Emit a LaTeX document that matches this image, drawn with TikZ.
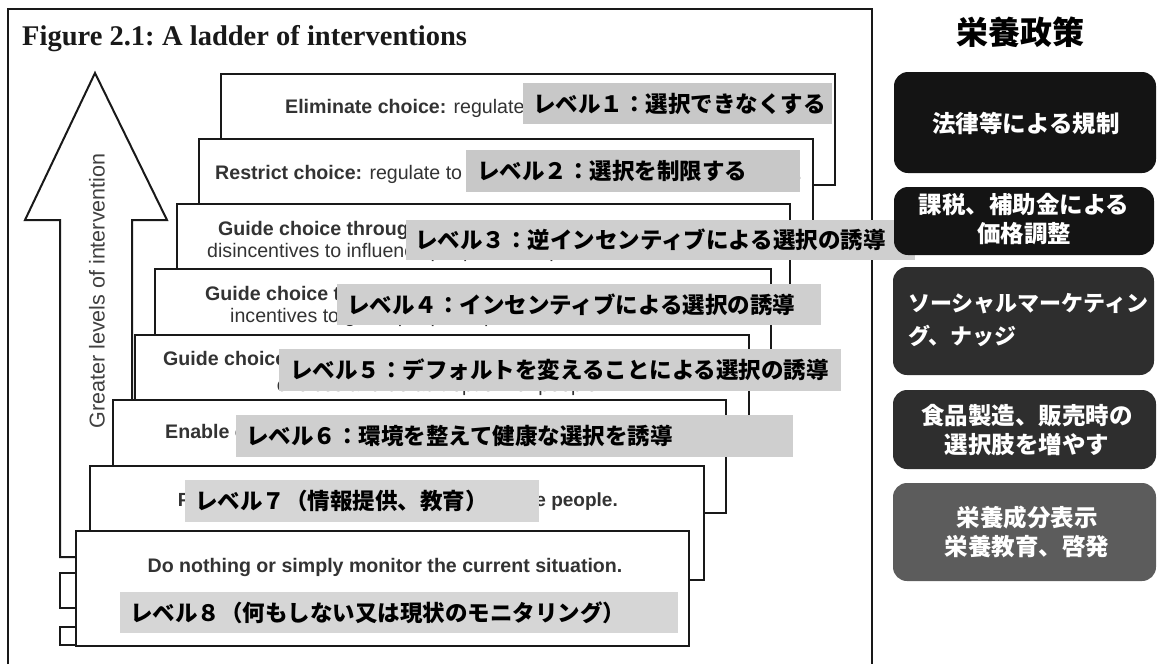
\documentclass[tikz,border=0pt]{standalone}
\usepackage{fontspec}
\setmainfont{Liberation Sans}
\newfontfamily\tmfont{Liberation Serif}
\newfontfamily\jpfont{Noto Sans CJK JP}
\definecolor{lgA}{HTML}{C8C8C8}
\definecolor{lgB}{HTML}{CFCFCF}
\definecolor{lgC}{HTML}{D6D6D6}
\definecolor{pA}{HTML}{141414}
\definecolor{pB}{HTML}{2E2E2E}
\definecolor{pC}{HTML}{5C5C5C}
\begin{document}
\begin{tikzpicture}[x=1pt,y=-1pt,
  ladder/.style={draw=black!90, line width=2.3pt, fill=white},
  outl/.style={draw=black!90, line width=2pt, fill=white},
  entxt/.style={font=\fontsize{19.6}{22}\selectfont, text=black!80, inner sep=0pt},
  lvltxt/.style={font=\jpfont\bfseries\fontsize{22.5}{26}\selectfont, text=black, anchor=west, inner sep=0pt},
  poltxt/.style={font=\jpfont\bfseries\fontsize{23.5}{29}\selectfont, text=white, align=center, inner sep=0pt}]
\useasboundingbox (0,0) rectangle (1158,664);
% frame
\draw[line width=2pt, draw=black!90] (8,664) -- (8,9) -- (872,9) -- (872,664);
\node[font=\tmfont\bfseries\fontsize{28.5}{32}\selectfont, anchor=base west, inner sep=0pt, text=black!90] (title) at (22,45) {Figure 2.1:\hspace{-2pt} A ladder of interventions};
% arrow
\draw[outl] (95,73) -- (167,220) -- (132,220) -- (132,557) -- (60,557) -- (60,220) -- (25,220) -- cycle;
\node[rotate=90, font=\fontsize{21.5}{24}\selectfont, text=black!75, inner sep=0pt] (gl) at (97,291) {Greater levels of intervention};
% small boxes peeking
\draw[outl] (60,573) rectangle (85,608);
\draw[outl] (60,627) rectangle (85,645);
% ladder boxes
\draw[ladder] (221,74) rectangle (835,185);
\node[entxt, anchor=west] (b1) at (285,108) {\textbf{Eliminate choice:} regulate to eliminate choice entirely.};
\draw[ladder] (199,139) rectangle (813,251);
\node[entxt, anchor=west] (b2) at (215,174) {\textbf{Restrict choice:} regulate to restrict the options available to people.};
\draw[ladder] (177,204) rectangle (790,316);
\node[entxt, anchor=west] (b3a) at (218,230) {\textbf{Guide choice through disincentives:} fiscal and other};
\node[entxt, anchor=west] (b3b) at (207,252) {disincentives to influence people not to pursue certain activities.};
\draw[ladder] (155,269) rectangle (771,382);
\node[entxt, anchor=west] (b4a) at (205,295) {\textbf{Guide choice through incentives:} regulations which offer};
\node[entxt, anchor=west] (b4b) at (230,317) {incentives to guide people to pursue certain activities.};
\draw[ladder] (135,335) rectangle (749,447);
\node[entxt, anchor=west] (b5a) at (163,360) {\textbf{Guide choices through changing the default policy:}};
\node[entxt, anchor=east] (b5b) at (603,386) {choices and default option for people.};
\draw[ladder] (113,400) rectangle (726,513);
\node[entxt, anchor=west] (b6) at (165,433) {\textbf{Enable choice:} enable individuals to change their behaviours.};
\draw[ladder] (90,466) rectangle (704,580);
\node[entxt, anchor=east, font=\fontsize{19}{22}\selectfont] (b7) at (618,502) {\textbf{Provide information: inform and educate people.}};
\draw[ladder] (76,531) rectangle (689,646);
\node[entxt] (b8) at (385,567) {\textbf{Do nothing or simply monitor the current situation.}};
% level labels
\fill[lgA] (523,83) rectangle (832,124);
\node[lvltxt] (l1) at (533,103.5) {レベル１：選択できなくする};
\fill[lgA] (466,150) rectangle (800,192);
\node[lvltxt] (l2) at (477,171) {レベル２：選択を制限する};
\fill[lgB] (406,220) rectangle (915,260);
\node[lvltxt] (l3) at (415,240) {レベル３：逆インセンティブによる選択の誘導};
\fill[lgB] (337,284) rectangle (821,325);
\node[lvltxt] (l4) at (347,304.5) {レベル４：インセンティブによる選択の誘導};
\fill[lgB] (279,349) rectangle (841,391);
\node[lvltxt] (l5) at (290,370) {レベル５：デフォルトを変えることによる選択の誘導};
\fill[lgB] (236,415) rectangle (793,457);
\node[lvltxt] (l6) at (246,436) {レベル６：環境を整えて健康な選択を誘導};
\fill[lgC] (185,480) rectangle (539,522);
\node[lvltxt] (l7) at (195,501) {レベル７（情報提供、教育）};
\fill[lgC] (120,592) rectangle (678,633);
\node[lvltxt] (l8) at (130,612.5) {レベル８（何もしない又は現状のモニタリング）};
% right panel
\node[font=\jpfont\bfseries\fontsize{32}{36}\selectfont, inner sep=0pt] (ptitle) at (1020,32) {栄養政策};
\fill[pA, rounded corners=14pt] (894,72) rectangle (1156,173);
\node[poltxt] (p1) at (1026,123) {法律等による規制};
\fill[pA, rounded corners=14pt] (894,187) rectangle (1154,255);
\node[poltxt] (p2) at (1024,219) {課税、補助金による\\価格調整};
\fill[pB, rounded corners=14pt] (893,267) rectangle (1154,375);
\node[poltxt, align=left, anchor=west, font=\jpfont\bfseries\fontsize{22}{33}\selectfont] (p3) at (908,320) {ソーシャルマーケティン\\グ、ナッジ};
\fill[pB, rounded corners=14pt] (893,390) rectangle (1156,469);
\node[poltxt] (p4) at (1027,430) {食品製造、販売時の\\選択肢を増やす};
\fill[pC, rounded corners=14pt] (893,483) rectangle (1156,581);
\node[poltxt] (p5) at (1027,532) {栄養成分表示\\栄養教育、啓発};
\end{tikzpicture}
\end{document}
